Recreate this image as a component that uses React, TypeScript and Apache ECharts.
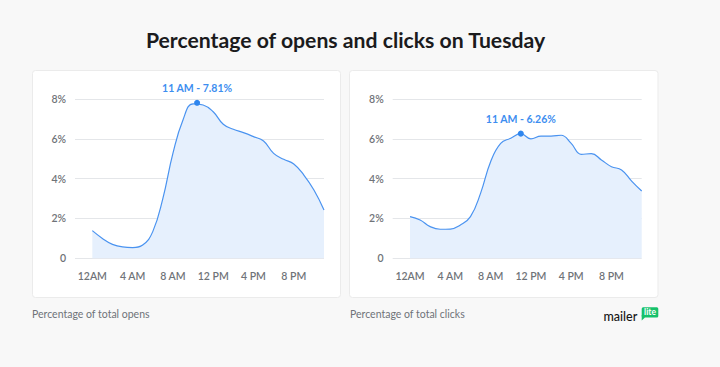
import React, { useEffect, useRef } from "react";
import * as echarts from "echarts";

const hours = [0, 1, 2, 3, 4, 5, 6, 7, 8, 9, 10, 11, 12, 13, 14, 15, 16, 17, 18, 19, 20, 21, 22, 23];
const hourTicks = [0, 4, 8, 12, 16, 20];
const hourTickLabels = ["12AM", "4 AM", "8 AM", "12 PM", "4 PM", "8 PM"];
const yTicks = [0, 2, 4, 6, 8];
const yTickLabels = ["0", "2%", "4%", "6%", "8%"];

const opens = [1.39, 1.0, 0.7, 0.57, 0.54, 0.67, 1.34, 3.0, 5.27, 6.95, 7.76, 7.7, 7.36, 6.73, 6.48, 6.31, 6.11, 5.89, 5.27, 4.97, 4.74, 4.18, 3.43, 2.43];
const clicks = [2.09, 1.92, 1.59, 1.46, 1.47, 1.67, 2.09, 3.26, 4.85, 5.77, 6.03, 6.26, 6.0, 6.14, 6.14, 6.18, 5.77, 5.22, 5.26, 4.94, 4.6, 4.44, 3.88, 3.38];

const opensPeak = { hour: 10.4, value: 7.81, label: "11 AM - 7.81%" };
const clicksPeak = { hour: 11, value: 6.26, label: "11 AM - 6.26%" };

const title = "Percentage of opens and clicks on Tuesday";
const opensCaption = "Percentage of total opens";
const clicksCaption = "Percentage of total clicks";

const FONT = "Lato, 'Open Sans', sans-serif";
const LINE = "#4a93f0";
const AREA = "#e6f0fd";

export default function App() {
  const ref = useRef<HTMLDivElement>(null);
  useEffect(() => {
    if (!ref.current) return;
    const chart = echarts.init(ref.current, undefined, { renderer: "svg" });

    const mkX = (gi: number) => ({
      type: "value" as const,
      gridIndex: gi,
      min: -1.72,
      max: 23,
      axisLine: { show: false },
      axisTick: { show: false },
      splitLine: { show: false },
      axisLabel: {
        customValues: hourTicks,
        formatter: (v: number) => hourTickLabels[hourTicks.indexOf(v)] ?? "",
        color: "#6f7378",
        fontFamily: FONT,
        fontWeight: 600,
        fontSize: 10.5,
        margin: 12,
      },
    });
    const mkY = (gi: number) => ({
      type: "value" as const,
      gridIndex: gi,
      min: 0,
      max: 8,
      interval: 2,
      axisLine: { show: false },
      axisTick: { show: false },
      splitLine: { lineStyle: { color: "#e4e6e9", width: 1 } },
      axisLabel: {
        formatter: (v: number) => yTickLabels[yTicks.indexOf(v)] ?? "",
        color: "#6f7378",
        fontFamily: FONT,
        fontWeight: 600,
        fontSize: 10.5,
        margin: 9,
      },
    });
    const mkSeries = (gi: number, vals: number[], peak: { hour: number; value: number; label: string }) => ({
      type: "line" as const,
      xAxisIndex: gi,
      yAxisIndex: gi,
      data: hours.map((h, i) => [h, vals[i]]),
      smooth: 0.45,
      symbol: "none",
      lineStyle: { color: LINE, width: 1.2 },
      areaStyle: { color: AREA, opacity: 1 },
      markPoint: {
        symbol: "circle",
        symbolSize: 6,
        itemStyle: { color: "#2f86ee" },
        label: {
          show: true,
          position: "top",
          distance: 6,
          formatter: () => peak.label,
          color: "#3d8ef0",
          fontFamily: FONT,
          fontWeight: 700,
          fontSize: 10.5,
        },
        data: [{ coord: [peak.hour, peak.value] }],
      },
    });

    chart.setOption({
      animation: false,
      backgroundColor: "#f8f8f8",
      grid: [
        { left: 75, top: 99, width: 249, height: 159.3 },
        { left: 392.7, top: 99, width: 249, height: 159.3 },
      ],
      xAxis: [mkX(0), mkX(1)],
      yAxis: [mkY(0), mkY(1)],
      series: [mkSeries(0, opens, opensPeak), mkSeries(1, clicks, clicksPeak)],
      graphic: [
        { type: "rect", z: -5, silent: true, shape: { x: 32.5, y: 70.5, width: 308, height: 227, r: 3 }, style: { fill: "#ffffff", stroke: "#ebebeb", lineWidth: 1 } },
        { type: "rect", z: -5, silent: true, shape: { x: 349.5, y: 70.5, width: 308.5, height: 227, r: 3 }, style: { fill: "#ffffff", stroke: "#ebebeb", lineWidth: 1 } },
        { type: "text", x: 345.5, y: 40, style: { text: title, fill: "#1b1b1d", font: `700 21.2px ${FONT}`, align: "center", verticalAlign: "middle" } },
        { type: "text", x: 32, y: 314, style: { text: opensCaption, fill: "#6f7378", font: `400 10.5px ${FONT}`, verticalAlign: "middle" } },
        { type: "text", x: 350, y: 314, style: { text: clicksCaption, fill: "#6f7378", font: `400 10.5px ${FONT}`, verticalAlign: "middle" } },
        { type: "text", x: 603.5, y: 316.5, style: { text: "mailer", fill: "#151515", font: `500 12.5px ${FONT}`, verticalAlign: "middle" } },
        { type: "rect", shape: { x: 641.7, y: 307.3, width: 16.6, height: 10.3, r: 1.5 }, style: { fill: "#16c16b" } },
        { type: "polygon", shape: { points: [[641.7, 315], [641.7, 320.5], [645, 317.5]] }, style: { fill: "#16c16b" } },
        { type: "text", x: 650, y: 312.3, style: { text: "lite", fill: "#ffffff", font: `700 8.5px ${FONT}`, align: "center", verticalAlign: "middle" } },
      ],
    });
    return () => chart.dispose();
  }, []);
  return <div ref={ref} style={{ position: "fixed", left: 0, top: 0, width: 720, height: 367 }} />;
}
